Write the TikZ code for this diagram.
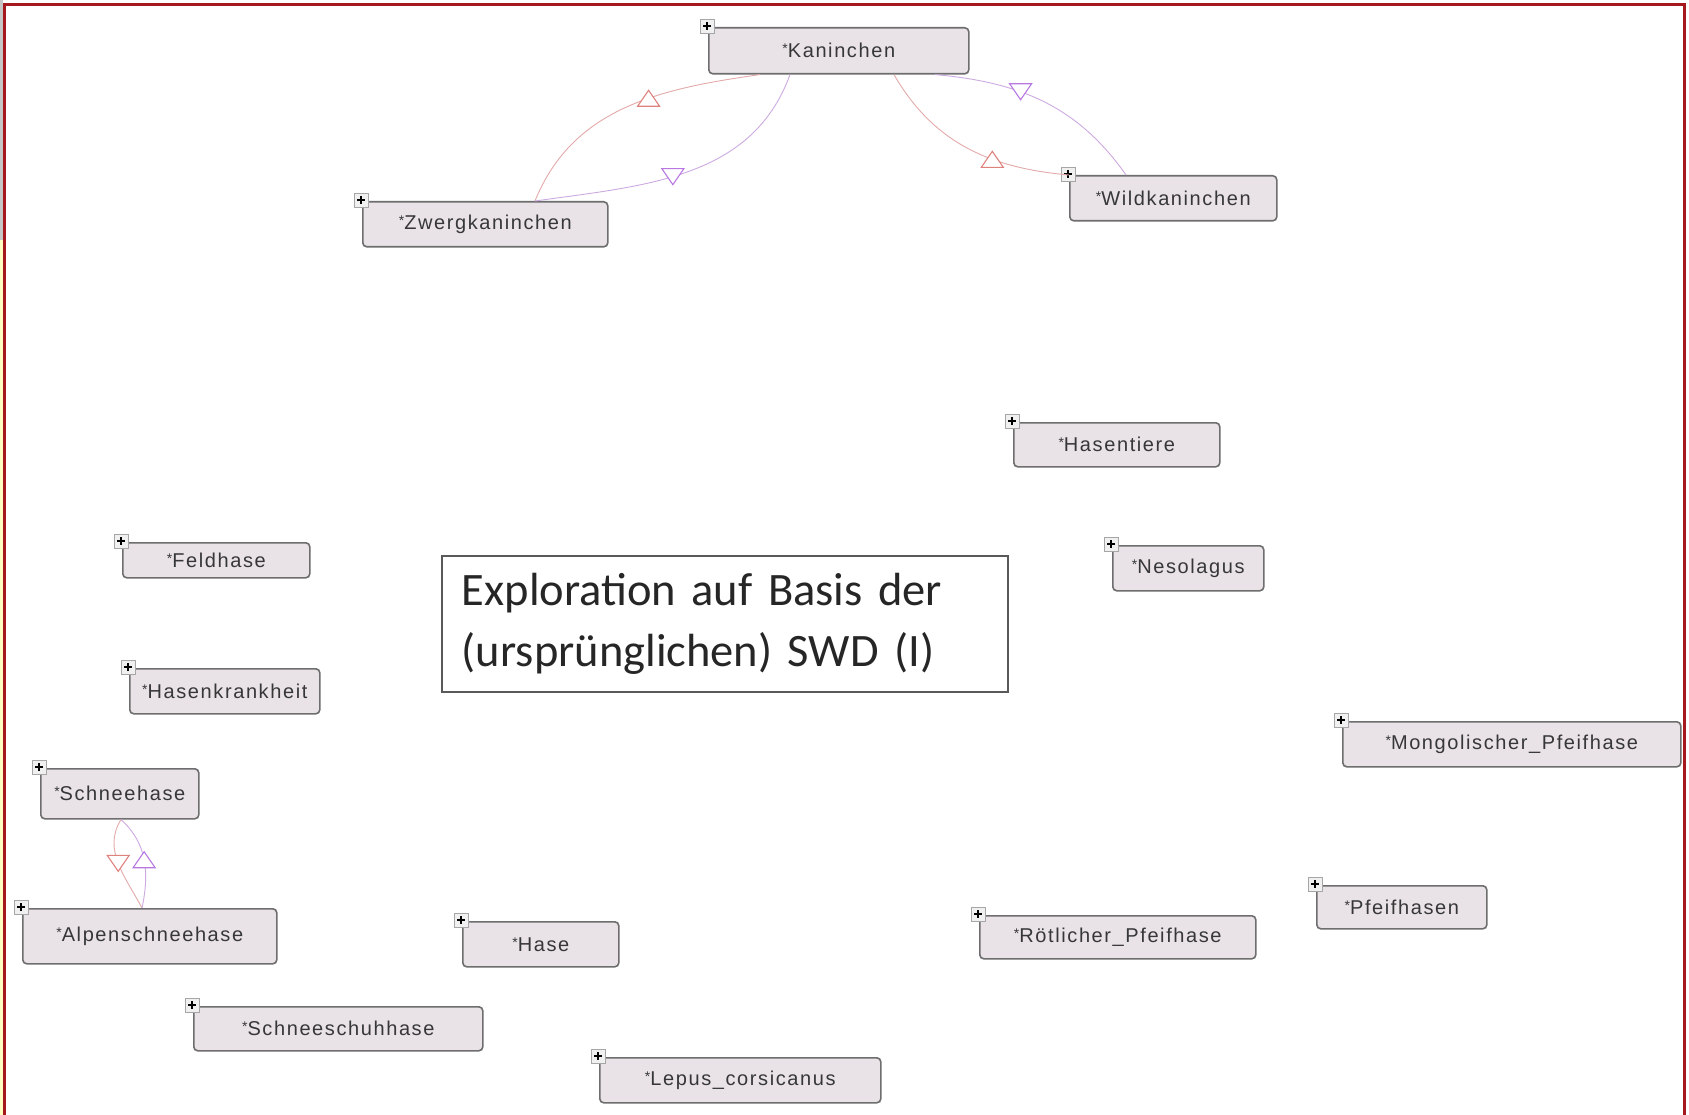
\documentclass[tikz,border=0pt]{standalone}
\usepackage{fontspec}
\setmainfont{Liberation Sans}
\newfontfamily\calib{Carlito}
\usetikzlibrary{arrows.meta,calc}
\definecolor{boxfill}{RGB}{233,227,231}
\definecolor{boxborder}{RGB}{110,110,110}
\definecolor{txt}{RGB}{55,55,55}
\definecolor{salmline}{RGB}{228,170,170}
\definecolor{salmtip}{RGB}{222,130,125}
\definecolor{purpline}{RGB}{205,170,225}
\definecolor{purptip}{RGB}{185,120,225}
\definecolor{framered}{RGB}{165,25,30}
\newcommand\nodefnt{\fontsize{20}{24}\selectfont\addfontfeature{LetterSpace=8}}
\newcommand\astk{\raisebox{4pt}{\fontsize{14}{14}\selectfont *}}
\tikzset{
  cls/.style={draw=boxborder, line width=1.6pt, fill=boxfill, rounded corners=4pt,
    anchor=north west, inner sep=0pt, font=\nodefnt, text=txt},
  plusic/.style={draw=gray!70, fill=gray!12, line width=0.8pt, minimum size=14pt,
    inner sep=0pt, rounded corners=0pt,
    path picture={\draw[black,line width=1.2pt]
      ([xshift=3pt]path picture bounding box.west) -- ([xshift=-3pt]path picture bounding box.east)
      ([yshift=-3pt]path picture bounding box.north) -- ([yshift=3pt]path picture bounding box.south);}},
  salm/.style={draw=salmline, line width=0.9pt},
  purp/.style={draw=purpline, line width=0.9pt},
  trisalm/.style={draw=salmtip, line width=1.1pt, fill=white, line join=miter},
  tripurp/.style={draw=purptip, line width=1.1pt, fill=white, line join=miter},
}
% triangle up / down centred at a named coordinate (y axis points down)
\newcommand\triup[2]{\draw[#1] ($(#2)+(-11,8)$) -- ($(#2)+(11,8)$) -- ($(#2)+(0,-8)$) -- cycle;}
\newcommand\tridown[2]{\draw[#1] ($(#2)+(-11,-8)$) -- ($(#2)+(11,-8)$) -- ($(#2)+(0,8)$) -- cycle;}
\begin{document}
\begin{tikzpicture}[x=1pt,y=-1pt]
\useasboundingbox (0,0) rectangle (1689,1115);
\fill[white] (0,0) rectangle (1689,1115);
\fill[gray!45] (0,0) rectangle (3,240);
\fill[yellow!25] (0,240) rectangle (3,1115);
\draw[framered, line width=3pt] (4.5,1120) -- (4.5,5) -- (1684,5) -- (1684,1120);

% class nodes
\node[cls, minimum width=260pt, minimum height=46pt] (kan) at (708,27) {\astk Kaninchen};
\node[cls, minimum width=245pt, minimum height=45pt] (zwerg) at (362,201) {\astk Zwergkaninchen};
\node[cls, minimum width=207pt, minimum height=45pt] (wild) at (1069,175) {\astk Wildkaninchen};
\node[cls, minimum width=206pt, minimum height=44pt] (hasent) at (1013,422) {\astk Hasentiere};
\node[cls, minimum width=187pt, minimum height=35pt] (feld) at (122,542) {\astk Feldhase};
\node[cls, minimum width=151pt, minimum height=45pt] (neso) at (1112,545) {\astk Nesolagus};
\node[cls, minimum width=190pt, minimum height=45pt] (hkrank) at (129,668) {\astk Hasenkrankheit};
\node[cls, minimum width=338pt, minimum height=45pt] (mongol) at (1342,721) {\astk Mongolischer\_Pfeifhase};
\node[cls, minimum width=158pt, minimum height=50pt] (schnee) at (40,768) {\astk Schneehase};
\node[cls, minimum width=254pt, minimum height=55pt] (alpen) at (22,908) {\astk Alpenschneehase};
\node[cls, minimum width=156pt, minimum height=45pt] (hase) at (462,921) {\astk Hase};
\node[cls, minimum width=276pt, minimum height=43pt] (roet) at (979,915) {\astk Rötlicher\_Pfeifhase};
\node[cls, minimum width=170pt, minimum height=43pt] (pfeif) at (1316,885) {\astk Pfeifhasen};
\node[cls, minimum width=289pt, minimum height=44pt] (schuh) at (193,1006) {\astk Schneeschuhhase};
\node[cls, minimum width=281pt, minimum height=45pt] (lepus) at (599,1057) {\astk Lepus\_corsicanus};

% plus icons
\foreach \n in {kan,zwerg,wild,hasent,feld,neso,hkrank,mongol,schnee,alpen,hase,roet,pfeif,schuh,lepus}{
  \node[plusic] (\n-plus) at ([shift={(-1pt,1pt)}]\n.north west) {};
}

% connectors
\draw[salm] ($(zwerg.north west)+(173,0)$) to[out=68,in=188] coordinate[pos=0.6] (m1) ($(kan.south west)+(52,0)$);
\draw[purp] ($(kan.south west)+(82,0)$) to[out=-110,in=8] coordinate[pos=0.56] (m2) ($(zwerg.north west)+(173,0)$);
\draw[salm] (wild.north west) to[out=175,in=-60] coordinate[pos=0.36] (m3) ($(kan.south west)+(186,0)$);
\draw[purp] ($(kan.south west)+(227,0)$) to[out=-5,in=125] coordinate[pos=0.38] (m4) ($(wild.north west)+(57,0)$);
\draw[salm] ($(schnee.south west)+(81,0)$) to[out=238,in=118] coordinate[pos=0.5] (m5) ($(alpen.north west)+(120,0)$);
\draw[purp] ($(alpen.north west)+(120,0)$) to[out=78,in=-42] coordinate[pos=0.5] (m6) ($(schnee.south west)+(81,0)$);
\tridown{trisalm}{m5}
\triup{tripurp}{m6}
\triup{trisalm}{m1}
\tridown{tripurp}{m2}
\triup{trisalm}{m3}
\tridown{tripurp}{m4}

% text box
\node[draw=black!65, line width=1.8pt, fill=white, anchor=north west,
      minimum width=566pt, minimum height=136pt, text width=526pt, align=left,
      inner xsep=20pt, font=\calib\fontsize{46.5}{61}\selectfont, text=black!85]
      (tb) at (441,555) {Exploration auf Basis der\\(ursprünglichen) SWD (I)};
\end{tikzpicture}
\end{document}
